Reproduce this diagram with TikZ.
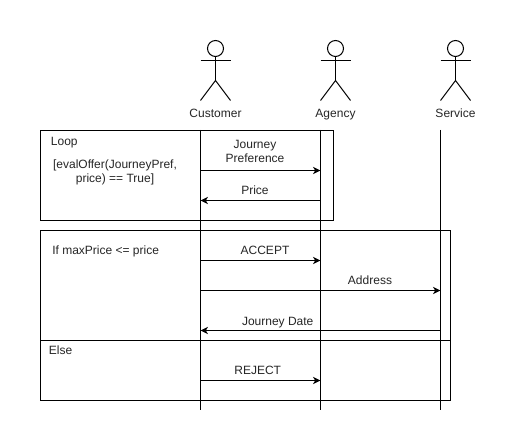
\documentclass[tikz,border=0pt]{standalone}
\usepackage{fontspec}
\setmainfont{Liberation Sans}
\usetikzlibrary{arrows.meta}
\tikzset{
  ln/.style={line width=0.75pt,black},
  lifeline/.style={ln},
  msg/.style={ln,-{Stealth[length=5.6pt,width=5.4pt,inset=1.6pt]}},
  txt/.style={font=\fontsize{9pt}{10.5pt}\selectfont,inner sep=0pt,text=black!85,align=center},
  one/.style={txt,anchor=base},
  lft/.style={txt,anchor=base west},
  head/.style={ln,draw,circle,minimum size=12pt,inner sep=0pt},
}
\begin{document}
\begin{tikzpicture}[x=0.75pt,y=-0.75pt]
\useasboundingbox (0,0) rectangle (521,441);
\fill[white] (0,0) rectangle (521,441);
% frames
\coordinate (loopA) at (40.5,130.5);
\coordinate (loopB) at (333.5,220.5);
\coordinate (altA) at (40.5,230.5);
\coordinate (altB) at (450.5,400.5);
\coordinate (elseA) at (40.5,340.5);
\coordinate (elseB) at (450.5,340.5);
\draw[ln] (loopA) rectangle (loopB);
\draw[ln] (altA) rectangle (altB);
\draw[ln] (elseA) -- (elseB);
% lifeline ends
\coordinate (cT) at (200.5,130);
\coordinate (cB) at (200.5,410);
\coordinate (aT) at (320.5,130);
\coordinate (aB) at (320.5,410);
\coordinate (sT) at (440.5,130);
\coordinate (sB) at (440.5,410);
\draw[lifeline] (cT) -- (cB);
\draw[lifeline] (aT) -- (aB);
\draw[lifeline] (sT) -- (sB);
% actors
\foreach \n/\x/\t in {c/215.5/Customer,a/335.5/Agency,s/455.5/Service}{
  \node[head] (\n head) at (\x,48.5) {};
  \coordinate (\n hip) at (\x,80.5);
  \coordinate (\n armL) at (\x-15,60.5);
  \coordinate (\n armR) at (\x+15,60.5);
  \coordinate (\n legL) at (\x-15,100.5);
  \coordinate (\n legR) at (\x+15,100.5);
  \draw[ln] (\n head.south) -- (\n hip);
  \draw[ln] (\n armL) -- (\n armR);
  \draw[ln] (\n legL) -- (\n hip) -- (\n legR);
  \node[one] (\n label) at (\x,118) {\t};
}
% messages
\foreach \nm/\y/\fa/\fb in {m1/170.5/200.5/320.5,m2/200.5/320.5/200.5,m3/260.5/200.5/320.5,m4/290.5/200.5/440.5,m5/330.5/440.5/200.5,m6/380.5/200.5/320.5}{
  \coordinate (\nm a) at (\fa,\y);
  \coordinate (\nm b) at (\fb,\y);
  \draw[msg] (\nm a) -- (\nm b);
}
% labels
\node[lft] (tLoop) at (50.7,146) {Loop};
\node[txt] (tCond) at (115,172) {[evalOffer(JourneyPref,\\price) == True]};
\node[txt] (tPref) at (255,151) {Journey\\Preference};
\node[one] (tPrice) at (255,195) {Price};
\node[lft] (tIf) at (52,255) {If maxPrice <= price};
\node[one] (tAcc) at (265,255) {ACCEPT};
\node[one] (tAddr) at (370,285) {Address};
\node[one] (tDate) at (277.7,325.5) {Journey Date};
\node[lft] (tElse) at (48.7,355) {Else};
\node[one] (tRej) at (257.7,375) {REJECT};
\end{tikzpicture}
\end{document}
